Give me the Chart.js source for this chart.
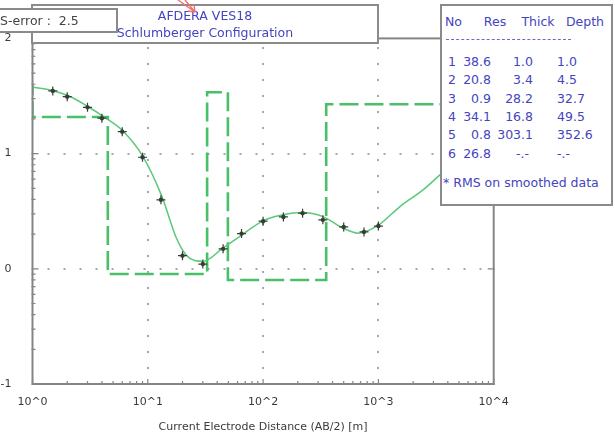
<!DOCTYPE html>
<html>
<head>
<meta charset="utf-8">
<script src="https://cdn.jsdelivr.net/npm/chart.js@4/dist/chart.umd.min.js"></script>
<style>
  html, body { margin: 0; padding: 0; background: #fff; }
  #wrap { position: relative; width: 615px; height: 436px; overflow: hidden; font-family: "DejaVu Sans", sans-serif; }
  canvas { position: absolute; left: 0; top: 0; }
  .box { position: absolute; background: #fff; border: 2px solid #8a8a8a; box-sizing: border-box; }
  .blue { color: #4444c0; }
  .t { position: absolute; white-space: pre; }
</style>
</head>
<body>
<div id="wrap">
  <canvas id="c" width="615" height="436"></canvas>
  <div class="box" id="titleBox" style="left:31px; top:4px; width:348px; height:40px;">
    <div class="t blue" style="left:0; width:344px; text-align:center; top:2px; font-size:12.5px;"></div>
    <div class="t blue" style="left:0; width:344px; text-align:center; top:19px; font-size:12.5px;"></div>
  </div>
  <div class="box" style="left:-4px; top:8px; width:122px; height:25px;">
    <div class="t" id="serr" style="left:2px; top:3px; font-size:12.5px; color:#444;"></div>
  </div>
  <div class="box" id="legBox" style="left:440px; top:4px; width:173px; height:202px;"></div>
  <svg style="position:absolute;left:176px;top:0;" width="24" height="16">
    <path d="M2 0 L19 12 M9 0 L19 12 M19 12 L12 11 M19 12 L18 5" stroke="#f07070" stroke-width="1.4" fill="none"/>
  </svg>
</div>
<script>
// ---- data ----
const ERROR_LABEL = "S-error :";
const ERROR_VALUE = "2.5";
const TITLE_1 = "AFDERA VES18";
const TITLE_2 = "Schlumberger Configuration";
const X_TITLE = "Current Electrode Distance (AB/2) [m]";
const X_TICKS = [1, 10, 100, 1000, 10000];
const Y_TICKS = [0.1, 1, 10, 100];

// observed apparent resistivity (crosses)
const AB2 = [1.5, 2, 3, 4, 6, 9, 13, 20, 30, 45, 65, 100, 150, 220, 330, 500, 750, 1000];
const RHO_OBS = [35.0, 31.2, 25.2, 20.3, 15.5, 9.3, 3.97, 1.30, 1.10, 1.49, 2.02, 2.59, 2.82, 3.04, 2.66, 2.31, 2.09, 2.35];

// calculated (smoothed) response curve
const CURVE_X = [1, 1.42, 2.11, 2.97, 4.17, 5.97, 9.08, 13.3, 17.5, 21.5, 25.5, 30.1, 44.7, 65.6, 99.8, 149, 216, 331, 494, 667, 993, 1538, 2438, 3420, 6220, 10000];
const CURVE_Y = [37.7, 35.6, 31.3, 25.9, 20.8, 16.0, 9.42, 4.21, 1.90, 1.32, 1.18, 1.16, 1.51, 1.97, 2.61, 2.94, 3.08, 2.84, 2.25, 2.04, 2.38, 3.47, 4.84, 6.53, 10.7, 15.5];

// layer model
const LAYER_NO = [1, 2, 3, 4, 5, 6];
const LAYER_RES = [38.6, 20.8, 0.9, 34.1, 0.8, 26.8];
const LAYER_THICK = ["1.0", "3.4", "28.2", "16.8", "303.1", "-.-"];
const LAYER_DEPTH = ["1.0", "4.5", "32.7", "49.5", "352.6", "-.-"];
const MODEL_END_X = 10000;

// ---- texts ----
document.getElementById('serr').textContent = ERROR_LABEL + "  " + ERROR_VALUE;
document.querySelector('#titleBox .t:nth-child(1)').textContent = TITLE_1;
document.querySelector('#titleBox .t:nth-child(2)').textContent = TITLE_2;

const leg = document.getElementById('legBox');
function addT(txt, left, top, align, w) {
  const d = document.createElement('div');
  d.className = 't blue';
  d.style.fontSize = '12.5px';
  d.style.top = top + 'px';
  if (align === 'right') { d.style.left = (left - w) + 'px'; d.style.width = w + 'px'; d.style.textAlign = 'right'; }
  else if (align === 'center') { d.style.left = (left - w / 2) + 'px'; d.style.width = w + 'px'; d.style.textAlign = 'center'; }
  else d.style.left = left + 'px';
  d.textContent = txt;
  leg.appendChild(d);
}
// coordinates relative to legend box (box at 440,4 incl. 2px border)
addT("No", 3, 8, 'left');
addT("Res", 53, 8, 'center', 40);
addT("Thick", 96, 8, 'center', 50);
addT("Depth", 143, 8, 'center', 50);
const sep = document.createElement('div');
sep.style.cssText = 'position:absolute;left:4px;top:33px;width:125px;height:0;border-top:1px dashed #6a6ad0;';
leg.appendChild(sep);
LAYER_NO.forEach((n, i) => {
  const top = 48 + i * 18.3;
  addT(String(n), 10, top, 'center', 14);
  addT(LAYER_RES[i].toFixed(1), 49, top, 'right', 40);
  addT(LAYER_THICK[i], LAYER_THICK[i] === "-.-" ? 87 : 91, top, 'right', 50);
  addT(LAYER_DEPTH[i], 115, top, 'left');
});
addT("* RMS on smoothed data", 1, 169, 'left');

// ---- model step line ----
const modelPts = [];
modelPts.push({x: 0.5, y: LAYER_RES[0]});
for (let i = 0; i < LAYER_RES.length - 1; i++) {
  const d = parseFloat(LAYER_DEPTH[i]);
  modelPts.push({x: d, y: LAYER_RES[i]});
  modelPts.push({x: d, y: LAYER_RES[i + 1]});
}
modelPts.push({x: MODEL_END_X, y: LAYER_RES[LAYER_RES.length - 1]});

const curvePts = CURVE_X.map((x, i) => ({x, y: CURVE_Y[i]}));
const obsPts = AB2.map((x, i) => ({x, y: RHO_OBS[i]}));

const lg = v => Math.round(Math.log10(v));

const framePlugin = {
  id: 'frame',
  beforeDatasetsDraw(chart) {
    const {ctx, chartArea: a, scales: {x, y}} = chart;
    ctx.save();
    ctx.fillStyle = '#a8a8a8';
    X_TICKS.slice(1, -1).forEach(v => {
      const px = Math.round(x.getPixelForValue(v));
      for (let py = a.bottom - 16; py > a.top + 2; py -= 16) ctx.fillRect(px - 1, py - 1, 2, 2);
    });
    Y_TICKS.slice(1, -1).forEach(v => {
      const py = Math.round(y.getPixelForValue(v));
      for (let px = a.left + 16; px < a.right - 2; px += 16) ctx.fillRect(px - 1, py - 1, 2, 2);
    });
    ctx.restore();
  },
  afterDatasetsDraw(chart) {
    const {ctx, chartArea: a, scales: {x, y}} = chart;
    ctx.save();
    ctx.strokeStyle = '#858585';
    ctx.lineWidth = 2;
    ctx.strokeRect(a.left, a.top, a.right - a.left, a.bottom - a.top);
    ctx.lineWidth = 1.2;
    ctx.beginPath();
    for (let e = 0; e < 4; e++) {
      for (let m = 2; m <= 9; m++) {
        const px = x.getPixelForValue(m * Math.pow(10, e));
        ctx.moveTo(px, a.bottom + 1); ctx.lineTo(px, a.bottom - 3);
      }
    }
    X_TICKS.forEach(v => {
      const px = x.getPixelForValue(v);
      ctx.moveTo(px, a.bottom + 1); ctx.lineTo(px, a.bottom - 5);
      ctx.moveTo(px, a.top); ctx.lineTo(px, a.top + 5);
    });
    for (let e = -1; e < 2; e++) {
      for (let m = 2; m <= 9; m++) {
        const py = y.getPixelForValue(m * Math.pow(10, e));
        ctx.moveTo(a.left - 1, py); ctx.lineTo(a.left + 3, py);
      }
    }
    Y_TICKS.forEach(v => {
      const py = y.getPixelForValue(v);
      ctx.moveTo(a.left - 1, py); ctx.lineTo(a.left + 6, py);
      ctx.moveTo(a.right + 1, py); ctx.lineTo(a.right - 6, py);
    });
    ctx.stroke();
    ctx.restore();
  }
};

new Chart(document.getElementById('c'), {
  type: 'scatter',
  data: {
    datasets: [
      { label: 'Model', data: modelPts, showLine: true, borderColor: '#48c068', borderWidth: 2.6,
        borderDash: [19, 6], pointRadius: 0, fill: false, order: 3 },
      { label: 'Calculated', data: curvePts, showLine: true, borderColor: '#5cc878', borderWidth: 1.5,
        pointRadius: 0, cubicInterpolationMode: 'monotone', fill: false, order: 2 },
      { label: 'Observed dot', data: obsPts, pointStyle: 'circle', pointRadius: 2.2,
        backgroundColor: '#244a2c', borderColor: '#244a2c', borderWidth: 0, order: 1 },
      { label: 'Observed', data: obsPts, pointStyle: 'cross', pointRadius: 4.5,
        borderColor: '#3a3a3a', borderWidth: 1.2, order: 0 }
    ]
  },
  options: {
    responsive: false,
    animation: false,
    events: [],
    layout: { padding: { left: 0, top: 38.4, right: 121.3, bottom: 0 } },
    plugins: { legend: { display: false }, tooltip: { enabled: false }, title: { display: false } },
    scales: {
      x: {
        type: 'logarithmic', min: 1, max: 10000,
        afterBuildTicks: s => { s.ticks = X_TICKS.map(v => ({value: v, major: true})); },
        afterFit: s => { s.height = 52; },
        grid: { display: false, drawTicks: false },
        border: { display: false },
        ticks: { callback: v => '10^' + lg(v), color: '#3a3a3a', padding: 12, maxRotation: 0, autoSkip: false,
          font: { family: 'DejaVu Sans', size: 11 } },
        title: { display: true, text: X_TITLE, color: '#3a3a3a', font: { family: 'DejaVu Sans', size: 11 },
          padding: { top: 0, bottom: 2 } }
      },
      y: {
        type: 'logarithmic', min: 0.1, max: 100,
        afterBuildTicks: s => { s.ticks = Y_TICKS.map(v => ({value: v, major: true})); },
        afterFit: s => { s.width = 32.5; },
        grid: { display: false, drawTicks: false },
        border: { display: false },
        ticks: { callback: v => String(lg(v)), color: '#3a3a3a', padding: 21, autoSkip: false,
          font: { family: 'DejaVu Sans', size: 11 } }
      }
    }
  },
  plugins: [framePlugin]
});
</script>
</body>
</html>
